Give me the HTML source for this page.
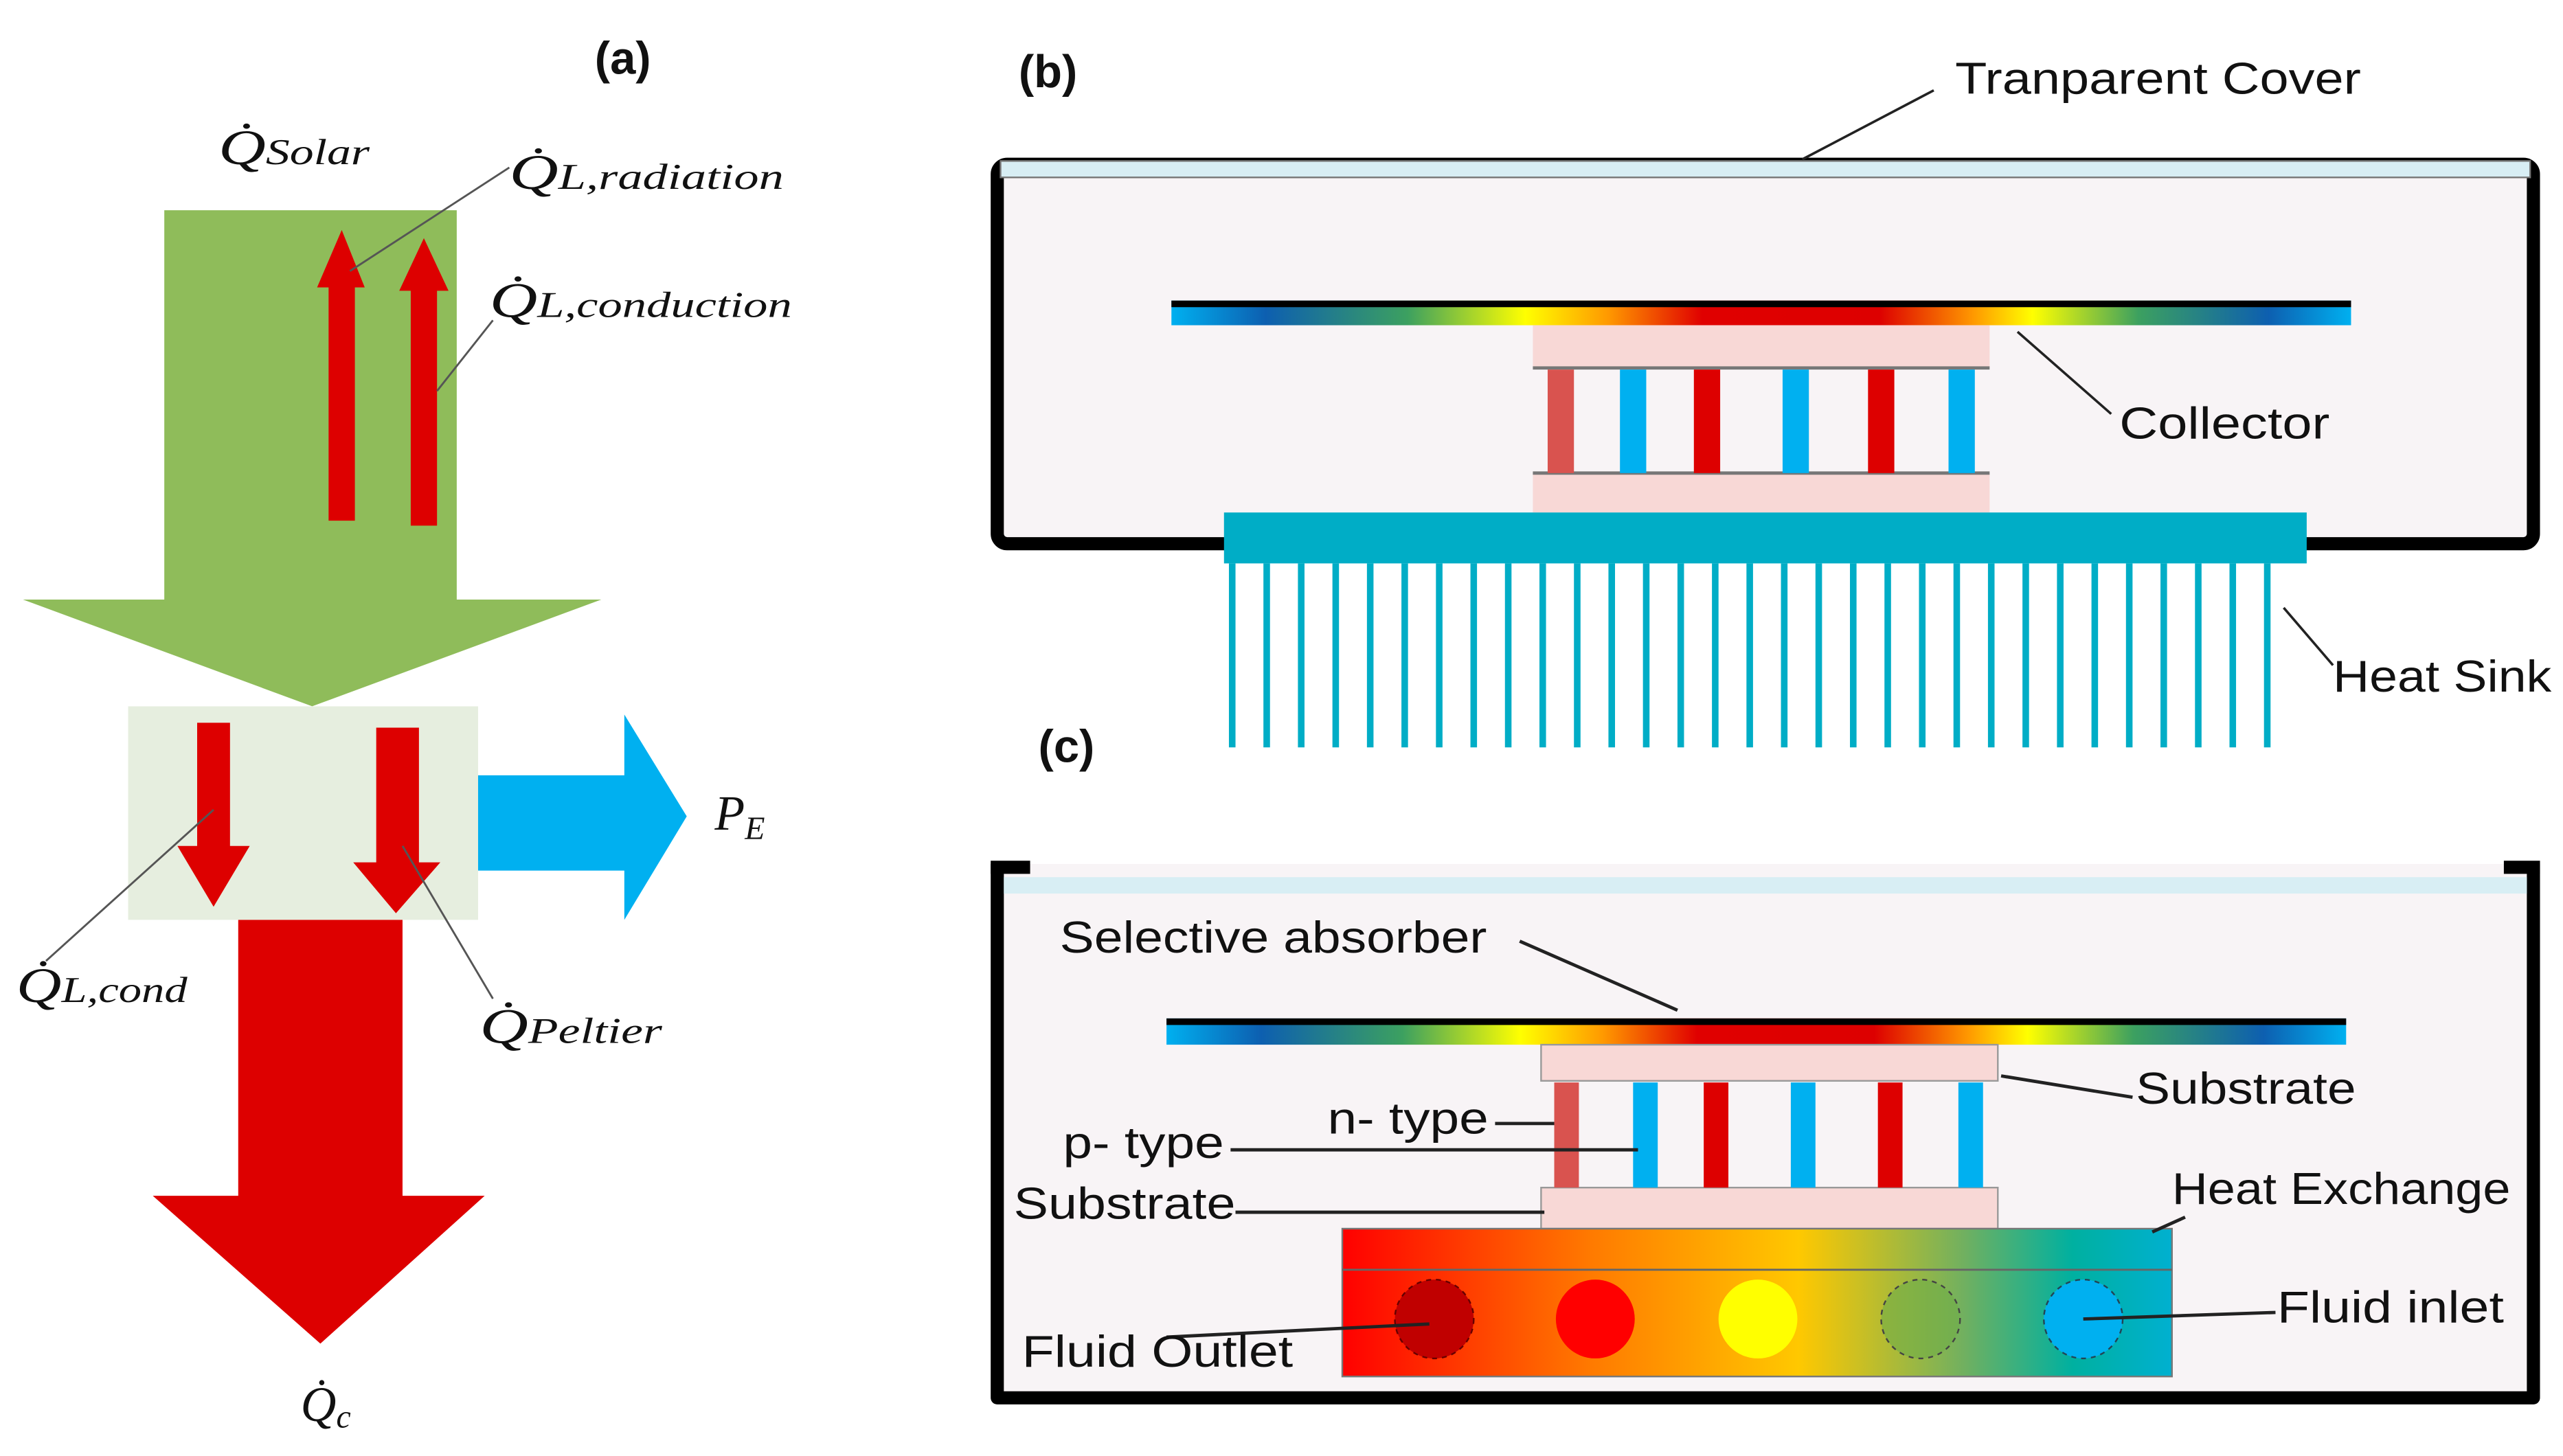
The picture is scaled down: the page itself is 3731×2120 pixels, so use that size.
<!DOCTYPE html>
<html><head><meta charset="utf-8"><style>
html,body{margin:0;padding:0;background:#fff}
svg{display:block}
.m{font-family:"Liberation Serif",serif;font-style:italic;fill:#111}
.s{font-family:"Liberation Sans",sans-serif;fill:#111}
</style></head><body>
<svg width="3731" height="2120" viewBox="0 0 1560 886.4" preserveAspectRatio="none" xmlns="http://www.w3.org/2000/svg">
<defs>
<linearGradient id="rb" x1="0" x2="1" y1="0" y2="0">
<stop offset="0" stop-color="#00b0f0"/><stop offset="0.08" stop-color="#0d5fb0"/><stop offset="0.2" stop-color="#3ca060"/><stop offset="0.3" stop-color="#ffff00"/><stop offset="0.37" stop-color="#ff9900"/><stop offset="0.45" stop-color="#e00000"/><stop offset="0.6" stop-color="#dd0000"/><stop offset="0.68" stop-color="#ff9900"/><stop offset="0.73" stop-color="#ffff00"/><stop offset="0.82" stop-color="#3ca060"/><stop offset="0.93" stop-color="#0d5fb0"/><stop offset="1" stop-color="#00b0f0"/>
</linearGradient>
<linearGradient id="hx" x1="0" x2="1" y1="0" y2="0">
<stop offset="0" stop-color="#ff0000"/><stop offset="0.3" stop-color="#ff7a00"/><stop offset="0.55" stop-color="#ffc800"/><stop offset="0.75" stop-color="#70b060"/><stop offset="0.88" stop-color="#00b0a0"/><stop offset="1" stop-color="#00b0d0"/>
</linearGradient>
</defs>

<!-- (a) -->
<text x="362" y="45" class="s" font-weight="bold" font-size="28">(a)</text>
<polygon points="100,128 278,128 278,365 366,365 190,430 14,365 100,365" fill="#8fbc5a"/>
<rect x="78" y="430" width="213" height="130" fill="#e6eedf"/>
<polygon points="200,317 216,317 216,175 222,175 208,140 193,175 200,175" fill="#dd0000"/>
<polygon points="250,320 266,320 266,177 273,177 258,145 243,177 250,177" fill="#dd0000"/>
<polygon points="120,440 140,440 140,515 152,515 130,552 108,515 120,515" fill="#dd0000"/>
<polygon points="229,443 255,443 255,525 268,525 241,556 215,525 229,525" fill="#dd0000"/>
<polygon points="291,472 380,472 380,435 418,497 380,560 380,530 291,530" fill="#00b0f0"/>
<polygon points="145,560 245,560 245,728 295,728 195,818 93,728 145,728" fill="#dd0000"/>
<g stroke="#555" stroke-width="1.2" fill="none">
<line x1="213" y1="165" x2="310" y2="102"/>
<line x1="266" y1="238" x2="300" y2="195"/>
<line x1="130" y1="493" x2="28" y2="585"/>
<line x1="245" y1="515" x2="300" y2="608"/>
</g>
<g class="m" font-size="30">
<text x="133" y="100" textLength="92" lengthAdjust="spacingAndGlyphs">Q̇<tspan font-size="22">Solar</tspan></text>
<text x="310" y="115" textLength="167" lengthAdjust="spacingAndGlyphs">Q̇<tspan font-size="22">L,radiation</tspan></text>
<text x="298" y="193" textLength="184" lengthAdjust="spacingAndGlyphs">Q̇<tspan font-size="22">L,conduction</tspan></text>
<text x="435" y="505">P<tspan font-size="20" dy="6">E</tspan></text>
<text x="10" y="610" textLength="104" lengthAdjust="spacingAndGlyphs">Q̇<tspan font-size="22">L,cond</tspan></text>
<text x="292" y="635" textLength="111" lengthAdjust="spacingAndGlyphs">Q̇<tspan font-size="22">Peltier</tspan></text>
<text x="183" y="865">Q̇<tspan font-size="20" dy="4">c</tspan></text>
</g>

<!-- (b) -->
<text x="620" y="53" class="s" font-weight="bold" font-size="28">(b)</text>
<rect x="607" y="100" width="935" height="231" rx="6" fill="#f8f4f6" stroke="#000" stroke-width="8"/>
<rect x="609" y="98" width="931" height="10" fill="#d8eef4" stroke="#777" stroke-width="1"/>
<rect x="713" y="183" width="718" height="15" fill="url(#rb)"/>
<rect x="713" y="183" width="718" height="4" fill="#000"/>
<rect x="933" y="198" width="278" height="26" fill="#f8d8d6"/>
<rect x="933" y="288" width="278" height="24" fill="#f8d8d6"/>
<line x1="933" y1="224" x2="1211" y2="224" stroke="#777" stroke-width="2"/>
<line x1="933" y1="288" x2="1211" y2="288" stroke="#777" stroke-width="2"/>
<rect x="942" y="225" width="16" height="63" fill="#d9534f"/>
<rect x="986" y="225" width="16" height="63" fill="#00b0f0"/>
<rect x="1031" y="225" width="16" height="63" fill="#dd0000"/>
<rect x="1085" y="225" width="16" height="63" fill="#00b0f0"/>
<rect x="1137" y="225" width="16" height="63" fill="#dd0000"/>
<rect x="1186" y="225" width="16" height="63" fill="#00b0f0"/>
<rect x="745" y="312" width="659" height="31" fill="#00adc6"/>
<g fill="#00adc6">
<rect x="748" y="343" width="4" height="112"/><rect x="769" y="343" width="4" height="112"/><rect x="790" y="343" width="4" height="112"/><rect x="811" y="343" width="4" height="112"/><rect x="832" y="343" width="4" height="112"/><rect x="853" y="343" width="4" height="112"/><rect x="874" y="343" width="4" height="112"/><rect x="895" y="343" width="4" height="112"/><rect x="916" y="343" width="4" height="112"/><rect x="937" y="343" width="4" height="112"/><rect x="958" y="343" width="4" height="112"/><rect x="979" y="343" width="4" height="112"/><rect x="1000" y="343" width="4" height="112"/><rect x="1021" y="343" width="4" height="112"/><rect x="1042" y="343" width="4" height="112"/><rect x="1063" y="343" width="4" height="112"/><rect x="1084" y="343" width="4" height="112"/><rect x="1105" y="343" width="4" height="112"/><rect x="1126" y="343" width="4" height="112"/><rect x="1147" y="343" width="4" height="112"/><rect x="1168" y="343" width="4" height="112"/><rect x="1189" y="343" width="4" height="112"/><rect x="1210" y="343" width="4" height="112"/><rect x="1231" y="343" width="4" height="112"/><rect x="1252" y="343" width="4" height="112"/><rect x="1273" y="343" width="4" height="112"/><rect x="1294" y="343" width="4" height="112"/><rect x="1315" y="343" width="4" height="112"/><rect x="1336" y="343" width="4" height="112"/><rect x="1357" y="343" width="4" height="112"/><rect x="1378" y="343" width="4" height="112"/>
</g>
<g stroke="#222" stroke-width="1.5">
<line x1="1097" y1="97" x2="1177" y2="55"/>
<line x1="1228" y1="202" x2="1285" y2="252"/>
<line x1="1390" y1="370" x2="1420" y2="405"/>
</g>
<g class="s" font-size="27" lengthAdjust="spacingAndGlyphs">
<text x="1190" y="57" textLength="247" lengthAdjust="spacingAndGlyphs">Tranparent Cover</text>
<text x="1290" y="267" textLength="128" lengthAdjust="spacingAndGlyphs">Collector</text>
<text x="1420" y="421" textLength="133" lengthAdjust="spacingAndGlyphs">Heat Sink</text>
</g>

<!-- (c) -->
<text x="632" y="464" class="s" font-weight="bold" font-size="28">(c)</text>
<path d="M607,526 V851 H1542 V526" fill="#f8f4f6" stroke="#000" stroke-width="8" stroke-linejoin="round"/>
<rect x="611" y="534" width="927" height="10" fill="#d8eef4"/>
<rect x="603" y="524" width="24" height="8" fill="#000"/>
<rect x="1524" y="524" width="22" height="8" fill="#000"/>
<rect x="710" y="620" width="718" height="16" fill="url(#rb)"/>
<rect x="710" y="620" width="718" height="4" fill="#000"/>
<rect x="938" y="636" width="278" height="22" fill="#f8d8d6" stroke="#999" stroke-width="1"/>
<rect x="938" y="723" width="278" height="25" fill="#f8d8d6" stroke="#999" stroke-width="1"/>
<rect x="946" y="659" width="15" height="64" fill="#d9534f"/>
<rect x="994" y="659" width="15" height="64" fill="#00b0f0"/>
<rect x="1037" y="659" width="15" height="64" fill="#dd0000"/>
<rect x="1090" y="659" width="15" height="64" fill="#00b0f0"/>
<rect x="1143" y="659" width="15" height="64" fill="#dd0000"/>
<rect x="1192" y="659" width="15" height="64" fill="#00b0f0"/>
<rect x="817" y="748" width="505" height="90" fill="url(#hx)" stroke="#777" stroke-width="1"/>
<line x1="817" y1="773" x2="1322" y2="773" stroke="#666" stroke-width="1.2"/>
<circle cx="873" cy="803" r="24" fill="#c00000" stroke="#600" stroke-dasharray="3,3"/>
<circle cx="971" cy="803" r="24" fill="#ff0000"/>
<circle cx="1070" cy="803" r="24" fill="#ffff00"/>
<circle cx="1169" cy="803" r="24" fill="#70ad47" fill-opacity="0.6" stroke="#444" stroke-dasharray="3,3"/>
<circle cx="1268" cy="803" r="24" fill="#00b0f0" stroke="#245" stroke-dasharray="3,3"/>
<g stroke="#222" stroke-width="2">
<line x1="1021" y1="615" x2="925" y2="573"/>
<line x1="1218" y1="655" x2="1298" y2="668"/>
<line x1="910" y1="684" x2="946" y2="684"/>
<line x1="749" y1="700" x2="997" y2="700"/>
<line x1="752" y1="738" x2="940" y2="738"/>
<line x1="1310" y1="750" x2="1330" y2="741"/>
<line x1="710" y1="814" x2="870" y2="806"/>
<line x1="1268" y1="803" x2="1385" y2="799"/>
</g>
<g class="s" font-size="27">
<text x="645" y="580" textLength="260" lengthAdjust="spacingAndGlyphs">Selective absorber</text>
<text x="1300" y="672" textLength="134" lengthAdjust="spacingAndGlyphs">Substrate</text>
<text x="808" y="690" textLength="98" lengthAdjust="spacingAndGlyphs">n- type</text>
<text x="647" y="705" textLength="98" lengthAdjust="spacingAndGlyphs">p- type</text>
<text x="617" y="742" textLength="135" lengthAdjust="spacingAndGlyphs">Substrate</text>
<text x="1322" y="733" textLength="206" lengthAdjust="spacingAndGlyphs">Heat Exchange</text>
<text x="622" y="832" textLength="165" lengthAdjust="spacingAndGlyphs">Fluid Outlet</text>
<text x="1386" y="805" textLength="138" lengthAdjust="spacingAndGlyphs">Fluid inlet</text>
</g>
</svg>
</body></html>
